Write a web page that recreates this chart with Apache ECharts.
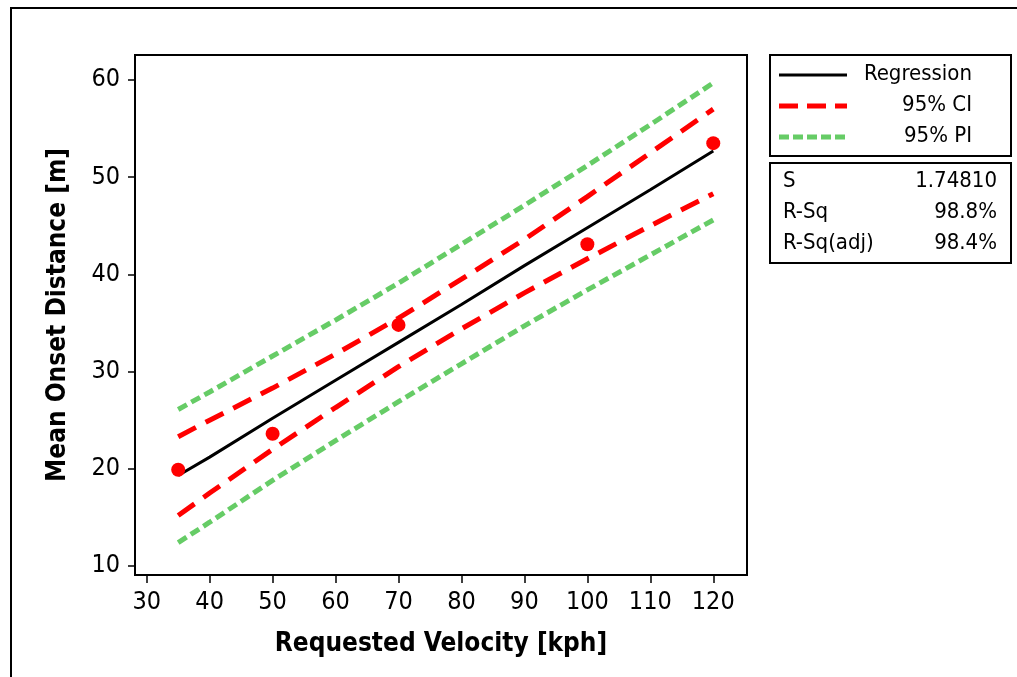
<!DOCTYPE html>
<html>
<head>
<meta charset="utf-8">
<title>Onset distance regression</title>
<script src="https://cdn.jsdelivr.net/npm/echarts@6/dist/echarts.min.js"></script>
<style>
  html, body { margin: 0; padding: 0; background: #fff; }
  #chart { width: 1017px; height: 677px; }
</style>
</head>
<body>
<div id="chart"></div>
<script>
// observed means
var velocities = [35, 50, 70, 100, 120];
var onsetDist = [19.9, 23.6, 34.8, 43.1, 53.5];

var fitX = [35, 40, 50, 60, 70, 80, 90, 100, 110, 120];
var regression = [19.3, 21.2, 25.2, 29.1, 33.0, 36.9, 40.9, 44.8, 48.7, 52.7];
var ciUpper = [23.3, 25.0, 28.3, 31.8, 35.5, 39.5, 43.6, 48.0, 52.5, 57.0];
var ciLower = [15.2, 17.5, 22.0, 26.3, 30.5, 34.4, 38.1, 41.6, 45.0, 48.3];
var piUpper = [26.1, 27.9, 31.6, 35.3, 39.1, 43.1, 47.1, 51.2, 55.4, 59.7];
var piLower = [12.4, 14.5, 18.8, 22.9, 26.9, 30.8, 34.7, 38.4, 42.0, 45.6];

var xTicks = [30, 40, 50, 60, 70, 80, 90, 100, 110, 120];
var yTicks = [10, 20, 30, 40, 50, 60];

var legendNames = ['Regression', '95% CI', '95% PI'];
var statNames = ['S', 'R-Sq', 'R-Sq(adj)'];
var statValues = ['1.74810', '98.8%', '98.4%'];

;(function () {
  'use strict';

  var FONT = '"DejaVu Sans Condensed", "DejaVu Sans", sans-serif';
  var RED = '#ff0000';
  var GREEN = '#66cc66';

  var chart = echarts.init(document.getElementById('chart'), null, { renderer: 'canvas' });

  function pairs(xs, ys) {
    return xs.map(function (x, i) { return [x, ys[i]]; });
  }

  function lineSeries(name, ys, color, width, dash) {
    return {
      name: name,
      type: 'line',
      data: pairs(fitX, ys),
      symbol: 'none',
      smooth: false,
      silent: true,
      lineStyle: { color: color, width: width, type: dash || 'solid', cap: 'butt' },
      z: 2
    };
  }

  function legendGraphics() {
    var styles = [
      { stroke: '#000', lineWidth: 3 },
      { stroke: RED, lineWidth: 5, lineDash: [19, 9] },
      { stroke: GREEN, lineWidth: 5, lineDash: [10, 4] }
    ];
    var out = [
      { type: 'rect', shape: { x: 770, y: 55, width: 241, height: 101 },
        style: { fill: 'none', stroke: '#000', lineWidth: 2 } },
      { type: 'rect', shape: { x: 770, y: 163, width: 241, height: 100 },
        style: { fill: 'none', stroke: '#000', lineWidth: 2 } }
    ];
    legendNames.forEach(function (name, i) {
      var y = 75 + i * 31;
      out.push({ type: 'line', shape: { x1: 779, y1: y, x2: 847, y2: y },
        style: Object.assign({ fill: 'none' }, styles[i]) });
      out.push({ type: 'text', x: 972, y: y - 1,
        style: { text: name, font: '22px ' + FONT, fill: '#000',
          align: 'right', verticalAlign: 'middle' } });
    });
    statNames.forEach(function (name, i) {
      var y = 181 + i * 31;
      out.push({ type: 'text', x: 783, y: y,
        style: { text: name, font: '22px ' + FONT, fill: '#000',
          align: 'left', verticalAlign: 'middle' } });
      out.push({ type: 'text', x: 997, y: y,
        style: { text: statValues[i], font: '22px ' + FONT, fill: '#000',
          align: 'right', verticalAlign: 'middle' } });
    });
    // outer frame, runs past the right and bottom edges
    out.push({ type: 'rect', shape: { x: 11, y: 8, width: 1100, height: 800 },
      style: { fill: 'none', stroke: '#000', lineWidth: 2 } });
    return out;
  }

  var option = {
    animation: false,
    backgroundColor: '#fff',
    grid: {
      left: 135, top: 55, width: 612, height: 520,
      show: true, borderColor: '#000', borderWidth: 2, backgroundColor: 'transparent'
    },
    xAxis: {
      type: 'value',
      min: 28.14,
      max: 125.36,
      name: 'Requested Velocity [kph]',
      nameLocation: 'middle',
      nameGap: 56,
      nameTextStyle: { fontFamily: FONT, fontSize: 26, fontWeight: 'bold', color: '#000' },
      axisLine: { show: false },
      splitLine: { show: false },
      axisTick: { show: true, inside: false, length: 8, customValues: xTicks,
        lineStyle: { color: '#000', width: 1.5 } },
      axisLabel: { customValues: xTicks, margin: 15, fontFamily: FONT, fontSize: 25, color: '#000' }
    },
    yAxis: {
      type: 'value',
      min: 9.07,
      max: 62.57,
      name: 'Mean Onset Distance [m]',
      nameLocation: 'middle',
      nameRotate: 90,
      nameGap: 64,
      nameTextStyle: { fontFamily: FONT, fontSize: 26, fontWeight: 'bold', color: '#000' },
      axisLine: { show: false },
      splitLine: { show: false },
      axisTick: { show: true, inside: false, length: 7, customValues: yTicks,
        lineStyle: { color: '#000', width: 1.5 } },
      axisLabel: { customValues: yTicks, margin: 15, fontFamily: FONT, fontSize: 25, color: '#000' }
    },
    series: [
      lineSeries('95% PI upper', piUpper, GREEN, 5, [10, 5]),
      lineSeries('95% PI lower', piLower, GREEN, 5, [10, 5]),
      lineSeries('95% CI upper', ciUpper, RED, 5, [20, 11]),
      lineSeries('95% CI lower', ciLower, RED, 5, [20, 11]),
      lineSeries('Regression', regression, '#000', 3),
      {
        name: 'Observed',
        type: 'scatter',
        data: pairs(velocities, onsetDist),
        symbol: 'circle',
        symbolSize: 14,
        itemStyle: { color: RED, opacity: 1 },
        z: 3
      }
    ],
    graphic: legendGraphics()
  };

  chart.setOption(option);
})();
</script>
</body>
</html>
